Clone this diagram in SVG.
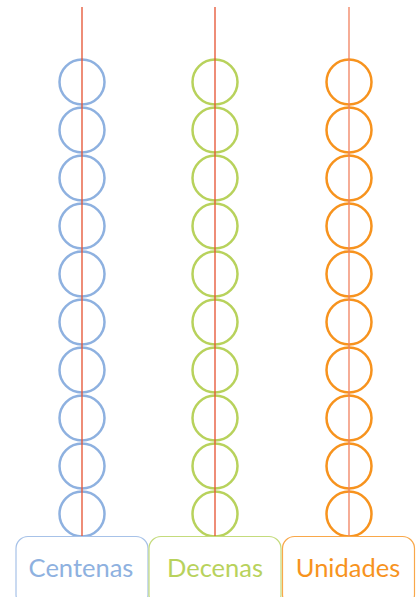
<svg xmlns="http://www.w3.org/2000/svg" width="418" height="597" viewBox="0 0 418 597">
<style>
.b{fill:none;stroke-width:2.5}
.blue{stroke:#8EB1E0}
.green{stroke:#B8D25C}
.orange{stroke:#F7931E}
.rod{stroke:#E5502F;stroke-width:1.3}
.box{fill:#fff;stroke-width:1.2}
.lbl{font-family:"Lato","Open Sans",sans-serif;font-weight:400;font-size:25.5px;text-anchor:middle}
</style>
<rect width="418" height="597" fill="#fff"/>
<g id="beads">
<g id="centenas-beads" class="b blue">
<circle cx="82" cy="82" r="22.5"/><circle cx="82" cy="130" r="22.5"/><circle cx="82" cy="178" r="22.5"/><circle cx="82" cy="226" r="22.5"/><circle cx="82" cy="274" r="22.5"/><circle cx="82" cy="322" r="22.5"/><circle cx="82" cy="370" r="22.5"/><circle cx="82" cy="418" r="22.5"/><circle cx="82" cy="466" r="22.5"/><circle cx="82" cy="514" r="22.5"/>
</g>
<g id="decenas-beads" class="b green">
<circle cx="215" cy="82" r="22.5"/><circle cx="215" cy="130" r="22.5"/><circle cx="215" cy="178" r="22.5"/><circle cx="215" cy="226" r="22.5"/><circle cx="215" cy="274" r="22.5"/><circle cx="215" cy="322" r="22.5"/><circle cx="215" cy="370" r="22.5"/><circle cx="215" cy="418" r="22.5"/><circle cx="215" cy="466" r="22.5"/><circle cx="215" cy="514" r="22.5"/>
</g>
<g id="unidades-beads" class="b orange">
<circle cx="349" cy="82" r="22.5"/><circle cx="349" cy="130" r="22.5"/><circle cx="349" cy="178" r="22.5"/><circle cx="349" cy="226" r="22.5"/><circle cx="349" cy="274" r="22.5"/><circle cx="349" cy="322" r="22.5"/><circle cx="349" cy="370" r="22.5"/><circle cx="349" cy="418" r="22.5"/><circle cx="349" cy="466" r="22.5"/><circle cx="349" cy="514" r="22.5"/>
</g>
</g>
<g id="rods">
<line class="rod" x1="82" y1="7" x2="82" y2="536"/>
<line class="rod" x1="215" y1="7" x2="215" y2="536"/>
<line class="rod" x1="349" y1="7" x2="349" y2="536" style="stroke:#F2805E"/>
</g>
<g id="centenas">
<rect class="box" x="16" y="536.5" width="132" height="70" rx="12" stroke="#A7C2E8"/>
<text class="lbl" x="81" y="577" fill="#8EB1E0">Centenas</text>
</g>
<g id="decenas">
<rect class="box" x="149" y="536.5" width="132" height="70" rx="12" stroke="#C4DB7C"/>
<text class="lbl" x="215" y="577" fill="#B8D25C">Decenas</text>
</g>
<g id="unidades">
<rect class="box" x="282.5" y="536.5" width="132" height="70" rx="12" stroke="#F9A84A"/>
<text class="lbl" x="348" y="577" fill="#F7931E">Unidades</text>
</g>
</svg>
